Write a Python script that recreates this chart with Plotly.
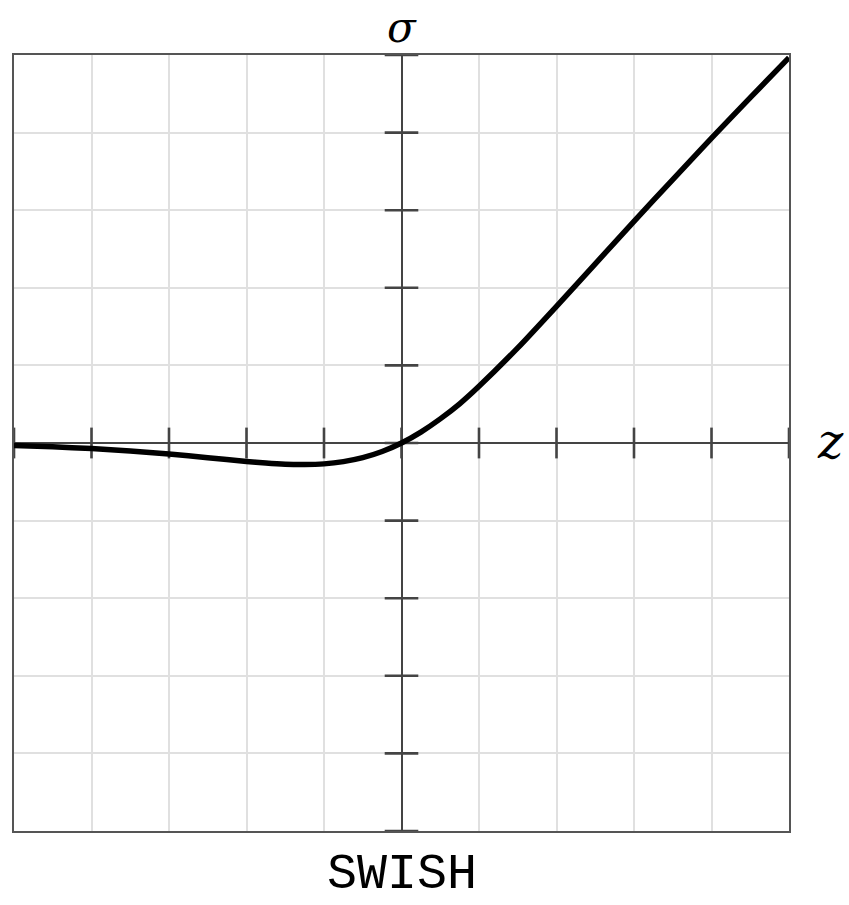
import plotly.graph_objects as go

# Swish activation sampled along z
z_vals = [-5.0, -4.5, -4.0, -3.5, -3.0, -2.5, -2.0, -1.75, -1.5, -1.25, -1.0, -0.75,
          -0.5, -0.25, 0.0, 0.25, 0.5, 0.75, 1.0, 1.5, 2.0, 2.5, 3.0, 3.5, 4.0, 4.5, 5.0]
sigma_vals = [-0.033, -0.049, -0.072, -0.102, -0.142, -0.189, -0.238, -0.259, -0.274, -0.278,
              -0.269, -0.240, -0.189, -0.110, 0.0, 0.141, 0.311, 0.505, 0.731, 1.226, 1.762,
              2.309, 2.857, 3.395, 3.928, 4.450, 4.966]

tick_vals = [-5, -4, -3, -2, -1, 0, 1, 2, 3, 4, 5]
title_text = "SWISH"

fig = go.Figure()

# tick marks crossing the z axis
fig.add_trace(go.Scatter(
    x=tick_vals, y=[0] * len(tick_vals), mode="markers",
    marker=dict(symbol="line-ns", size=22, line=dict(color="#444444", width=2.6)),
    cliponaxis=False, hoverinfo="skip", showlegend=False))
# tick marks crossing the sigma axis
fig.add_trace(go.Scatter(
    x=[0] * len(tick_vals), y=tick_vals, mode="markers",
    marker=dict(symbol="line-ew", size=24, line=dict(color="#444444", width=2.6)),
    cliponaxis=False, hoverinfo="skip", showlegend=False))

# the curve
fig.add_trace(go.Scatter(
    x=z_vals, y=sigma_vals, mode="lines",
    line=dict(color="black", width=5.5, shape="spline", smoothing=0.6),
    cliponaxis=False, showlegend=False))

axis_common = dict(
    range=[-5, 5], tickvals=tick_vals, showticklabels=False, ticks="",
    showgrid=True, gridcolor="#e0e0e0", gridwidth=1.6,
    zeroline=True, zerolinecolor="#444444", zerolinewidth=2.2,
    showline=True, linecolor="#555555", linewidth=2, mirror=True,
    fixedrange=True,
)

fig.update_layout(
    width=849, height=905,
    margin=dict(l=14, r=60, t=55, b=74),
    paper_bgcolor="white", plot_bgcolor="white",
    xaxis=axis_common, yaxis=axis_common,
    annotations=[
        dict(x=0, y=1, xref="x", yref="paper", text="<i>σ</i>", showarrow=False,
             xanchor="center", yanchor="top", yshift=54,
             font=dict(family="DejaVu Serif", size=42, color="black")),
        dict(x=1, y=0, xref="paper", yref="y", text="<i>z</i>", showarrow=False,
             xanchor="left", yanchor="middle", xshift=26, yshift=2,
             font=dict(family="DejaVu Serif", size=48, color="black")),
        dict(x=0, y=0, xref="x", yref="paper", text=title_text, showarrow=False,
             xanchor="center", yanchor="top", yshift=-13,
             font=dict(family="Liberation Mono", size=50, color="black")),
    ],
)

fig.write_html("out.html")
